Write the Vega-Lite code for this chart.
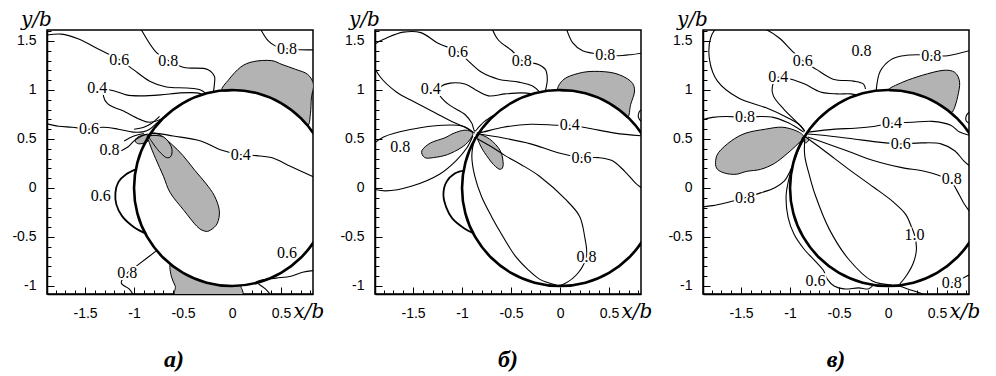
{
"$schema":"https://vega.github.io/schema/vega-lite/v6.json",
"background":"white",
"padding":{"left":11,"top":8,"right":0,"bottom":0},
"autosize":{"type":"pad"},
"bounds":"flush",
"spacing":62,
"config":{
 "view":{"stroke":"black","strokeWidth":1.5},
 "axis":{"grid":false,"domain":true,"domainColor":"black","domainWidth":1.5,"tickColor":"black","tickWidth":1,"labelColor":"black","labelFont":"Liberation Sans","labelFontSize":14,"titleFont":"DejaVu Serif","titleFontStyle":"italic","titleFontWeight":"normal","titleFontSize":20,"titleColor":"black","zindex":1,"labelFlush":false,"labelOverlap":false},
 "title":{"orient":"bottom","anchor":"middle","font":"Liberation Serif","fontSize":24,"fontStyle":"italic","fontWeight":"bold","color":"black","offset":27,"baseline":"alphabetic"}
},
"datasets":{
"circle":[{"i":0,"x":1,"y":0},{"i":1,"x":0.966,"y":0.259},{"i":2,"x":0.866,"y":0.5},{"i":3,"x":0.707,"y":0.707},{"i":4,"x":0.5,"y":0.866},{"i":5,"x":0.259,"y":0.966},{"i":6,"x":0,"y":1},{"i":7,"x":-0.259,"y":0.966},{"i":8,"x":-0.5,"y":0.866},{"i":9,"x":-0.707,"y":0.707},{"i":10,"x":-0.866,"y":0.5},{"i":11,"x":-0.966,"y":0.259},{"i":12,"x":-1,"y":0},{"i":13,"x":-0.966,"y":-0.259},{"i":14,"x":-0.866,"y":-0.5},{"i":15,"x":-0.707,"y":-0.707},{"i":16,"x":-0.5,"y":-0.866},{"i":17,"x":-0.259,"y":-0.966},{"i":18,"x":0,"y":-1},{"i":19,"x":0.259,"y":-0.966},{"i":20,"x":0.5,"y":-0.866},{"i":21,"x":0.707,"y":-0.707},{"i":22,"x":0.866,"y":-0.5},{"i":23,"x":0.966,"y":-0.259}],
"gray":[
{"p":"a","c":"g1","i":0,"x":-0.10,"y":0.995},{"p":"a","c":"g1","i":1,"x":0.1,"y":0.995},{"p":"a","c":"g1","i":2,"x":0.3,"y":0.954},{"p":"a","c":"g1","i":3,"x":0.5,"y":0.866},{"p":"a","c":"g1","i":4,"x":0.65,"y":0.76},{"p":"a","c":"g1","i":5,"x":0.77,"y":0.64},{"p":"a","c":"g1","i":6,"x":0.80,"y":0.76},{"p":"a","c":"g1","i":7,"x":0.81,"y":0.92},{"p":"a","c":"g1","i":8,"x":0.83,"y":1.06},{"p":"a","c":"g1","i":9,"x":0.77,"y":1.16},{"p":"a","c":"g1","i":10,"x":0.65,"y":1.21},{"p":"a","c":"g1","i":11,"x":0.51,"y":1.26},{"p":"a","c":"g1","i":12,"x":0.40,"y":1.30},{"p":"a","c":"g1","i":13,"x":0.22,"y":1.29},{"p":"a","c":"g1","i":14,"x":0.09,"y":1.235},{"p":"a","c":"g1","i":15,"x":-0.03,"y":1.11},
{"p":"a","c":"g2","i":0,"x":-0.99,"y":0.48},{"p":"a","c":"g2","i":1,"x":-0.96,"y":0.52},{"p":"a","c":"g2","i":2,"x":-0.88,"y":0.545},{"p":"a","c":"g2","i":3,"x":-0.84,"y":0.52},{"p":"a","c":"g2","i":4,"x":-0.87,"y":0.47},{"p":"a","c":"g2","i":5,"x":-0.95,"y":0.45},
{"p":"a","c":"g3","i":0,"x":-0.86,"y":0.54},{"p":"a","c":"g3","i":1,"x":-0.75,"y":0.55},{"p":"a","c":"g3","i":2,"x":-0.62,"y":0.45},{"p":"a","c":"g3","i":3,"x":-0.5,"y":0.33},{"p":"a","c":"g3","i":4,"x":-0.38,"y":0.18},{"p":"a","c":"g3","i":5,"x":-0.27,"y":0.05},{"p":"a","c":"g3","i":6,"x":-0.18,"y":-0.08},{"p":"a","c":"g3","i":7,"x":-0.13,"y":-0.23},{"p":"a","c":"g3","i":8,"x":-0.15,"y":-0.36},{"p":"a","c":"g3","i":9,"x":-0.22,"y":-0.43},{"p":"a","c":"g3","i":10,"x":-0.28,"y":-0.44},{"p":"a","c":"g3","i":11,"x":-0.36,"y":-0.39},{"p":"a","c":"g3","i":12,"x":-0.49,"y":-0.23},{"p":"a","c":"g3","i":13,"x":-0.63,"y":-0.05},{"p":"a","c":"g3","i":14,"x":-0.70,"y":0.12},{"p":"a","c":"g3","i":15,"x":-0.78,"y":0.3},{"p":"a","c":"g3","i":16,"x":-0.84,"y":0.45},
{"p":"a","c":"g4","i":0,"x":-0.84,"y":0.53},{"p":"a","c":"g4","i":1,"x":-0.7,"y":0.52},{"p":"a","c":"g4","i":2,"x":-0.62,"y":0.42},{"p":"a","c":"g4","i":3,"x":-0.62,"y":0.33},{"p":"a","c":"g4","i":4,"x":-0.67,"y":0.31},{"p":"a","c":"g4","i":5,"x":-0.74,"y":0.37},{"p":"a","c":"g4","i":6,"x":-0.81,"y":0.46},
{"p":"a","c":"g5","i":0,"x":-0.63,"y":-0.78},{"p":"a","c":"g5","i":1,"x":-0.62,"y":-0.9},{"p":"a","c":"g5","i":2,"x":-0.58,"y":-1.0},{"p":"a","c":"g5","i":3,"x":-0.53,"y":-1.12},{"p":"a","c":"g5","i":4,"x":0.06,"y":-1.12},{"p":"a","c":"g5","i":5,"x":0.09,"y":-1.0},{"p":"a","c":"g5","i":6,"x":0.1,"y":-0.995},{"p":"a","c":"g5","i":7,"x":0.0,"y":-1.0},{"p":"a","c":"g5","i":8,"x":-0.2,"y":-0.98},{"p":"a","c":"g5","i":9,"x":-0.4,"y":-0.917},{"p":"a","c":"g5","i":10,"x":-0.55,"y":-0.835},
{"p":"b","c":"g1","i":0,"x":-0.02,"y":1.0},{"p":"b","c":"g1","i":1,"x":0.04,"y":1.11},{"p":"b","c":"g1","i":2,"x":0.19,"y":1.17},{"p":"b","c":"g1","i":3,"x":0.35,"y":1.19},{"p":"b","c":"g1","i":4,"x":0.56,"y":1.17},{"p":"b","c":"g1","i":5,"x":0.72,"y":1.09},{"p":"b","c":"g1","i":6,"x":0.76,"y":0.99},{"p":"b","c":"g1","i":7,"x":0.72,"y":0.85},{"p":"b","c":"g1","i":8,"x":0.69,"y":0.72},{"p":"b","c":"g1","i":9,"x":0.6,"y":0.8},{"p":"b","c":"g1","i":10,"x":0.45,"y":0.893},{"p":"b","c":"g1","i":11,"x":0.3,"y":0.954},{"p":"b","c":"g1","i":12,"x":0.15,"y":0.989},
{"p":"b","c":"g2","i":0,"x":-1.41,"y":0.38},{"p":"b","c":"g2","i":1,"x":-1.32,"y":0.46},{"p":"b","c":"g2","i":2,"x":-1.18,"y":0.51},{"p":"b","c":"g2","i":3,"x":-1.08,"y":0.56},{"p":"b","c":"g2","i":4,"x":-0.97,"y":0.59},{"p":"b","c":"g2","i":5,"x":-0.89,"y":0.56},{"p":"b","c":"g2","i":6,"x":-0.93,"y":0.48},{"p":"b","c":"g2","i":7,"x":-1.01,"y":0.41},{"p":"b","c":"g2","i":8,"x":-1.15,"y":0.34},{"p":"b","c":"g2","i":9,"x":-1.29,"y":0.31},{"p":"b","c":"g2","i":10,"x":-1.38,"y":0.31},
{"p":"b","c":"g3","i":0,"x":-0.85,"y":0.55},{"p":"b","c":"g3","i":1,"x":-0.72,"y":0.50},{"p":"b","c":"g3","i":2,"x":-0.61,"y":0.38},{"p":"b","c":"g3","i":3,"x":-0.58,"y":0.24},{"p":"b","c":"g3","i":4,"x":-0.61,"y":0.19},{"p":"b","c":"g3","i":5,"x":-0.68,"y":0.24},{"p":"b","c":"g3","i":6,"x":-0.77,"y":0.36},{"p":"b","c":"g3","i":7,"x":-0.82,"y":0.45},
{"p":"c","c":"g1","i":0,"x":-1.76,"y":0.26},{"p":"c","c":"g1","i":1,"x":-1.73,"y":0.36},{"p":"c","c":"g1","i":2,"x":-1.60,"y":0.48},{"p":"c","c":"g1","i":3,"x":-1.45,"y":0.56},{"p":"c","c":"g1","i":4,"x":-1.25,"y":0.60},{"p":"c","c":"g1","i":5,"x":-1.08,"y":0.62},{"p":"c","c":"g1","i":6,"x":-0.93,"y":0.58},{"p":"c","c":"g1","i":7,"x":-0.86,"y":0.52},{"p":"c","c":"g1","i":8,"x":-0.92,"y":0.45},{"p":"c","c":"g1","i":9,"x":-1.03,"y":0.35},{"p":"c","c":"g1","i":10,"x":-1.16,"y":0.25},{"p":"c","c":"g1","i":11,"x":-1.30,"y":0.19},{"p":"c","c":"g1","i":12,"x":-1.44,"y":0.17},{"p":"c","c":"g1","i":13,"x":-1.55,"y":0.14},{"p":"c","c":"g1","i":14,"x":-1.66,"y":0.15},{"p":"c","c":"g1","i":15,"x":-1.74,"y":0.19},
{"p":"c","c":"g2","i":0,"x":-0.81,"y":0.49},{"p":"c","c":"g2","i":1,"x":-0.84,"y":0.52},{"p":"c","c":"g2","i":2,"x":-0.87,"y":0.49},{"p":"c","c":"g2","i":3,"x":-0.84,"y":0.46},
{"p":"c","c":"g3","i":0,"x":0.0,"y":1.0},{"p":"c","c":"g3","i":1,"x":0.15,"y":1.08},{"p":"c","c":"g3","i":2,"x":0.35,"y":1.15},{"p":"c","c":"g3","i":3,"x":0.56,"y":1.2},{"p":"c","c":"g3","i":4,"x":0.68,"y":1.18},{"p":"c","c":"g3","i":5,"x":0.73,"y":1.08},{"p":"c","c":"g3","i":6,"x":0.71,"y":0.93},{"p":"c","c":"g3","i":7,"x":0.67,"y":0.80},{"p":"c","c":"g3","i":8,"x":0.63,"y":0.776},{"p":"c","c":"g3","i":9,"x":0.5,"y":0.866},{"p":"c","c":"g3","i":10,"x":0.3,"y":0.954},{"p":"c","c":"g3","i":11,"x":0.15,"y":0.989}
],
"thick":[
{"p":"a","c":"t1","i":0,"x":-0.98,"y":0.19},{"p":"a","c":"t1","i":1,"x":-1.08,"y":0.14},{"p":"a","c":"t1","i":2,"x":-1.16,"y":0.06},{"p":"a","c":"t1","i":3,"x":-1.19,"y":-0.05},{"p":"a","c":"t1","i":4,"x":-1.18,"y":-0.17},{"p":"a","c":"t1","i":5,"x":-1.12,"y":-0.29},{"p":"a","c":"t1","i":6,"x":-1.0,"y":-0.40},{"p":"a","c":"t1","i":7,"x":-0.87,"y":-0.47},
{"p":"b","c":"t1","i":0,"x":-0.97,"y":0.18},{"p":"b","c":"t1","i":1,"x":-1.07,"y":0.15},{"p":"b","c":"t1","i":2,"x":-1.16,"y":0.06},{"p":"b","c":"t1","i":3,"x":-1.19,"y":-0.07},{"p":"b","c":"t1","i":4,"x":-1.16,"y":-0.2},{"p":"b","c":"t1","i":5,"x":-1.10,"y":-0.31},{"p":"b","c":"t1","i":6,"x":-0.98,"y":-0.41},{"p":"b","c":"t1","i":7,"x":-0.89,"y":-0.46}
],
"lines":[
{"p":"a","c":"1","i":0,"x":-1.95,"y":1.55},{"p":"a","c":"1","i":1,"x":-1.74,"y":1.57},{"p":"a","c":"1","i":2,"x":-1.565,"y":1.52},{"p":"a","c":"1","i":3,"x":-1.36,"y":1.415},{"p":"a","c":"1","i":4,"x":-1.15,"y":1.31},{"p":"a","c":"1","i":5,"x":-1.01,"y":1.21},{"p":"a","c":"1","i":6,"x":-0.84,"y":1.09},{"p":"a","c":"1","i":7,"x":-0.67,"y":1.03},{"p":"a","c":"1","i":8,"x":-0.46,"y":1.02},{"p":"a","c":"1","i":9,"x":-0.32,"y":1.0},{"p":"a","c":"1","i":10,"x":-0.27,"y":0.965},
{"p":"a","c":"2","i":0,"x":-0.94,"y":1.64},{"p":"a","c":"2","i":1,"x":-0.77,"y":1.38},{"p":"a","c":"2","i":2,"x":-0.65,"y":1.30},{"p":"a","c":"2","i":3,"x":-0.49,"y":1.23},{"p":"a","c":"2","i":4,"x":-0.25,"y":1.21},{"p":"a","c":"2","i":5,"x":-0.18,"y":1.14},{"p":"a","c":"2","i":6,"x":-0.18,"y":1.06},{"p":"a","c":"2","i":7,"x":-0.19,"y":0.98},
{"p":"a","c":"3","i":0,"x":0.28,"y":1.64},{"p":"a","c":"3","i":1,"x":0.37,"y":1.5},{"p":"a","c":"3","i":2,"x":0.44,"y":1.45},{"p":"a","c":"3","i":3,"x":0.56,"y":1.42},{"p":"a","c":"3","i":4,"x":0.70,"y":1.41},{"p":"a","c":"3","i":5,"x":0.86,"y":1.41},
{"p":"a","c":"4","i":0,"x":-0.30,"y":0.954},{"p":"a","c":"4","i":1,"x":-0.36,"y":0.97},{"p":"a","c":"4","i":2,"x":-0.53,"y":0.97},{"p":"a","c":"4","i":3,"x":-0.73,"y":0.95},{"p":"a","c":"4","i":4,"x":-0.94,"y":0.94},{"p":"a","c":"4","i":5,"x":-1.08,"y":0.95},{"p":"a","c":"4","i":6,"x":-1.2,"y":0.99},{"p":"a","c":"4","i":7,"x":-1.3,"y":1.0},{"p":"a","c":"4","i":8,"x":-1.31,"y":0.93},{"p":"a","c":"4","i":9,"x":-1.27,"y":0.86},{"p":"a","c":"4","i":10,"x":-1.2,"y":0.82},{"p":"a","c":"4","i":11,"x":-1.12,"y":0.79},{"p":"a","c":"4","i":12,"x":-0.94,"y":0.70},{"p":"a","c":"4","i":13,"x":-0.84,"y":0.67},{"p":"a","c":"4","i":14,"x":-0.73,"y":0.70},{"p":"a","c":"4","i":15,"x":-0.67,"y":0.745},
{"p":"a","c":"5","i":0,"x":-1.95,"y":0.67},{"p":"a","c":"5","i":1,"x":-1.77,"y":0.63},{"p":"a","c":"5","i":2,"x":-1.63,"y":0.62},{"p":"a","c":"5","i":3,"x":-1.46,"y":0.60},{"p":"a","c":"5","i":4,"x":-1.32,"y":0.62},{"p":"a","c":"5","i":5,"x":-1.16,"y":0.60},{"p":"a","c":"5","i":6,"x":-1.01,"y":0.57},{"p":"a","c":"5","i":7,"x":-0.90,"y":0.575},{"p":"a","c":"5","i":8,"x":-0.84,"y":0.60},{"p":"a","c":"5","i":9,"x":-0.76,"y":0.67},{"p":"a","c":"5","i":10,"x":-0.70,"y":0.72},
{"p":"a","c":"6","i":0,"x":-1.13,"y":0.38},{"p":"a","c":"6","i":1,"x":-1.06,"y":0.42},{"p":"a","c":"6","i":2,"x":-1.0,"y":0.48},{"p":"a","c":"6","i":3,"x":-0.92,"y":0.53},{"p":"a","c":"6","i":4,"x":-0.86,"y":0.55},
{"p":"a","c":"7","i":0,"x":-1.1,"y":0.48},{"p":"a","c":"7","i":1,"x":-1.0,"y":0.53},{"p":"a","c":"7","i":2,"x":-0.9,"y":0.555},
{"p":"a","c":"8","i":0,"x":-1.0,"y":0.6},{"p":"a","c":"8","i":1,"x":-0.9,"y":0.62},{"p":"a","c":"8","i":2,"x":-0.82,"y":0.66},{"p":"a","c":"8","i":3,"x":-0.74,"y":0.73},
{"p":"a","c":"9","i":0,"x":-0.85,"y":0.55},{"p":"a","c":"9","i":1,"x":-0.80,"y":0.56},{"p":"a","c":"9","i":2,"x":-0.60,"y":0.53},{"p":"a","c":"9","i":3,"x":-0.32,"y":0.48},{"p":"a","c":"9","i":4,"x":-0.12,"y":0.39},{"p":"a","c":"9","i":5,"x":0.09,"y":0.34},{"p":"a","c":"9","i":6,"x":0.25,"y":0.33},{"p":"a","c":"9","i":7,"x":0.40,"y":0.31},{"p":"a","c":"9","i":8,"x":0.60,"y":0.22},{"p":"a","c":"9","i":9,"x":0.86,"y":0.10},
{"p":"a","c":"11","i":0,"x":-0.77,"y":-0.64},{"p":"a","c":"11","i":1,"x":-0.94,"y":-0.77},{"p":"a","c":"11","i":2,"x":-1.07,"y":-0.87},{"p":"a","c":"11","i":3,"x":-1.13,"y":-0.97},{"p":"a","c":"11","i":4,"x":-1.05,"y":-1.03},{"p":"a","c":"11","i":5,"x":-0.99,"y":-1.12},
{"p":"a","c":"13","i":0,"x":0.86,"y":-0.84},{"p":"a","c":"13","i":1,"x":0.72,"y":-0.86},{"p":"a","c":"13","i":2,"x":0.6,"y":-0.9},{"p":"a","c":"13","i":3,"x":0.45,"y":-0.92},{"p":"a","c":"13","i":4,"x":0.3,"y":-0.94},{"p":"a","c":"13","i":5,"x":0.22,"y":-0.97},
{"p":"a","c":"14","i":0,"x":0.27,"y":-0.98},{"p":"a","c":"14","i":1,"x":0.34,"y":-1.03},{"p":"a","c":"14","i":2,"x":0.41,"y":-1.11},
{"p":"b","c":"1","i":0,"x":-0.87,"y":0.56},{"p":"b","c":"1","i":1,"x":-0.97,"y":0.62},{"p":"b","c":"1","i":2,"x":-1.11,"y":0.68},{"p":"b","c":"1","i":3,"x":-1.28,"y":0.77},{"p":"b","c":"1","i":4,"x":-1.49,"y":0.88},{"p":"b","c":"1","i":5,"x":-1.67,"y":0.98},{"p":"b","c":"1","i":6,"x":-1.84,"y":1.14},{"p":"b","c":"1","i":7,"x":-1.92,"y":1.3},{"p":"b","c":"1","i":8,"x":-1.93,"y":1.4},{"p":"b","c":"1","i":9,"x":-1.87,"y":1.48},{"p":"b","c":"1","i":10,"x":-1.77,"y":1.53},{"p":"b","c":"1","i":11,"x":-1.60,"y":1.59},{"p":"b","c":"1","i":12,"x":-1.42,"y":1.585},{"p":"b","c":"1","i":13,"x":-1.25,"y":1.48},{"p":"b","c":"1","i":14,"x":-1.04,"y":1.39},{"p":"b","c":"1","i":15,"x":-0.94,"y":1.30},{"p":"b","c":"1","i":16,"x":-0.80,"y":1.18},{"p":"b","c":"1","i":17,"x":-0.63,"y":1.11},{"p":"b","c":"1","i":18,"x":-0.42,"y":1.08},{"p":"b","c":"1","i":19,"x":-0.28,"y":1.04},{"p":"b","c":"1","i":20,"x":-0.21,"y":0.98},
{"p":"b","c":"2","i":0,"x":-0.70,"y":1.64},{"p":"b","c":"2","i":1,"x":-0.63,"y":1.51},{"p":"b","c":"2","i":2,"x":-0.49,"y":1.40},{"p":"b","c":"2","i":3,"x":-0.39,"y":1.30},{"p":"b","c":"2","i":4,"x":-0.22,"y":1.26},{"p":"b","c":"2","i":5,"x":-0.15,"y":1.21},{"p":"b","c":"2","i":6,"x":-0.13,"y":1.11},{"p":"b","c":"2","i":7,"x":-0.15,"y":0.99},
{"p":"b","c":"3","i":0,"x":0.06,"y":1.64},{"p":"b","c":"3","i":1,"x":0.13,"y":1.48},{"p":"b","c":"3","i":2,"x":0.23,"y":1.40},{"p":"b","c":"3","i":3,"x":0.46,"y":1.36},{"p":"b","c":"3","i":4,"x":0.59,"y":1.35},{"p":"b","c":"3","i":5,"x":0.72,"y":1.36},{"p":"b","c":"3","i":6,"x":0.86,"y":1.38},
{"p":"b","c":"5","i":0,"x":-0.28,"y":0.96},{"p":"b","c":"5","i":1,"x":-0.39,"y":0.97},{"p":"b","c":"5","i":2,"x":-0.56,"y":0.96},{"p":"b","c":"5","i":3,"x":-0.73,"y":0.94},{"p":"b","c":"5","i":4,"x":-0.84,"y":0.99},{"p":"b","c":"5","i":5,"x":-0.97,"y":1.06},{"p":"b","c":"5","i":6,"x":-1.12,"y":1.07},{"p":"b","c":"5","i":7,"x":-1.22,"y":1.03},{"p":"b","c":"5","i":8,"x":-1.24,"y":0.97},{"p":"b","c":"5","i":9,"x":-1.20,"y":0.91},{"p":"b","c":"5","i":10,"x":-1.12,"y":0.84},{"p":"b","c":"5","i":11,"x":-0.97,"y":0.75},{"p":"b","c":"5","i":12,"x":-0.90,"y":0.66},{"p":"b","c":"5","i":13,"x":-0.87,"y":0.58},{"p":"b","c":"5","i":14,"x":-0.83,"y":0.62},{"p":"b","c":"5","i":15,"x":-0.77,"y":0.68},{"p":"b","c":"5","i":16,"x":-0.68,"y":0.74},
{"p":"b","c":"6","i":0,"x":-1.95,"y":0.41},{"p":"b","c":"6","i":1,"x":-1.80,"y":0.52},{"p":"b","c":"6","i":2,"x":-1.51,"y":0.60},{"p":"b","c":"6","i":3,"x":-1.20,"y":0.64},{"p":"b","c":"6","i":4,"x":-0.99,"y":0.63},{"p":"b","c":"6","i":5,"x":-0.89,"y":0.57},
{"p":"b","c":"7","i":0,"x":-1.95,"y":0.0},{"p":"b","c":"7","i":1,"x":-1.78,"y":-0.03},{"p":"b","c":"7","i":2,"x":-1.51,"y":0.02},{"p":"b","c":"7","i":3,"x":-1.23,"y":0.14},{"p":"b","c":"7","i":4,"x":-1.06,"y":0.28},{"p":"b","c":"7","i":5,"x":-0.95,"y":0.41},{"p":"b","c":"7","i":6,"x":-0.89,"y":0.53},
{"p":"b","c":"10","i":0,"x":-0.85,"y":0.56},{"p":"b","c":"10","i":1,"x":-0.79,"y":0.57},{"p":"b","c":"10","i":2,"x":-0.58,"y":0.62},{"p":"b","c":"10","i":3,"x":-0.30,"y":0.65},{"p":"b","c":"10","i":4,"x":-0.02,"y":0.64},{"p":"b","c":"10","i":5,"x":0.1,"y":0.64},{"p":"b","c":"10","i":6,"x":0.29,"y":0.61},{"p":"b","c":"10","i":7,"x":0.56,"y":0.56},{"p":"b","c":"10","i":8,"x":0.86,"y":0.53},
{"p":"b","c":"11","i":0,"x":-0.82,"y":0.55},{"p":"b","c":"11","i":1,"x":-0.58,"y":0.51},{"p":"b","c":"11","i":2,"x":-0.30,"y":0.45},{"p":"b","c":"11","i":3,"x":-0.02,"y":0.36},{"p":"b","c":"11","i":4,"x":0.22,"y":0.31},{"p":"b","c":"11","i":5,"x":0.39,"y":0.31},{"p":"b","c":"11","i":6,"x":0.53,"y":0.28},{"p":"b","c":"11","i":7,"x":0.66,"y":0.17},{"p":"b","c":"11","i":8,"x":0.77,"y":0.05},{"p":"b","c":"11","i":9,"x":0.86,"y":-0.02},
{"p":"b","c":"12","i":0,"x":-0.84,"y":0.5},{"p":"b","c":"12","i":1,"x":-0.7,"y":0.42},{"p":"b","c":"12","i":2,"x":-0.56,"y":0.33},{"p":"b","c":"12","i":3,"x":-0.40,"y":0.24},{"p":"b","c":"12","i":4,"x":-0.21,"y":0.12},{"p":"b","c":"12","i":5,"x":0.06,"y":-0.12},{"p":"b","c":"12","i":6,"x":0.2,"y":-0.29},{"p":"b","c":"12","i":7,"x":0.25,"y":-0.49},{"p":"b","c":"12","i":8,"x":0.27,"y":-0.69},{"p":"b","c":"12","i":9,"x":0.19,"y":-0.86},{"p":"b","c":"12","i":10,"x":0.04,"y":-0.98},{"p":"b","c":"12","i":11,"x":-0.02,"y":-0.995},
{"p":"b","c":"13","i":0,"x":-0.87,"y":0.52},{"p":"b","c":"13","i":1,"x":-0.9,"y":0.33},{"p":"b","c":"13","i":2,"x":-0.87,"y":0.12},{"p":"b","c":"13","i":3,"x":-0.80,"y":-0.09},{"p":"b","c":"13","i":4,"x":-0.70,"y":-0.29},{"p":"b","c":"13","i":5,"x":-0.58,"y":-0.5},{"p":"b","c":"13","i":6,"x":-0.46,"y":-0.69},{"p":"b","c":"13","i":7,"x":-0.33,"y":-0.83},{"p":"b","c":"13","i":8,"x":-0.21,"y":-0.93},{"p":"b","c":"13","i":9,"x":-0.04,"y":-0.99},
{"p":"b","c":"15","i":0,"x":0.86,"y":0.82},{"p":"b","c":"15","i":1,"x":0.81,"y":0.78},{"p":"b","c":"15","i":2,"x":0.80,"y":0.72},{"p":"b","c":"15","i":3,"x":0.83,"y":0.68},{"p":"b","c":"15","i":4,"x":0.86,"y":0.67},
{"p":"c","c":"1","i":0,"x":-0.85,"y":0.58},{"p":"c","c":"1","i":1,"x":-0.91,"y":0.65},{"p":"c","c":"1","i":2,"x":-1.01,"y":0.71},{"p":"c","c":"1","i":3,"x":-1.25,"y":0.82},{"p":"c","c":"1","i":4,"x":-1.53,"y":0.92},{"p":"c","c":"1","i":5,"x":-1.74,"y":1.09},{"p":"c","c":"1","i":6,"x":-1.82,"y":1.30},{"p":"c","c":"1","i":7,"x":-1.81,"y":1.53},{"p":"c","c":"1","i":8,"x":-1.74,"y":1.64},{"p":"c","c":"1","i":9,"x":-1.5,"y":1.7},{"p":"c","c":"1","i":10,"x":-1.25,"y":1.62},{"p":"c","c":"1","i":11,"x":-1.11,"y":1.53},{"p":"c","c":"1","i":12,"x":-0.98,"y":1.40},{"p":"c","c":"1","i":13,"x":-0.87,"y":1.30},{"p":"c","c":"1","i":14,"x":-0.73,"y":1.21},{"p":"c","c":"1","i":15,"x":-0.56,"y":1.11},{"p":"c","c":"1","i":16,"x":-0.35,"y":1.09},{"p":"c","c":"1","i":17,"x":-0.25,"y":1.06},{"p":"c","c":"1","i":18,"x":-0.23,"y":1.01},
{"p":"c","c":"2","i":0,"x":-0.31,"y":0.945},{"p":"c","c":"2","i":1,"x":-0.38,"y":0.96},{"p":"c","c":"2","i":2,"x":-0.52,"y":0.96},{"p":"c","c":"2","i":3,"x":-0.69,"y":0.98},{"p":"c","c":"2","i":4,"x":-0.85,"y":1.06},{"p":"c","c":"2","i":5,"x":-0.99,"y":1.11},{"p":"c","c":"2","i":6,"x":-1.12,"y":1.13},{"p":"c","c":"2","i":7,"x":-1.18,"y":1.04},{"p":"c","c":"2","i":8,"x":-1.17,"y":0.94},{"p":"c","c":"2","i":9,"x":-1.06,"y":0.80},{"p":"c","c":"2","i":10,"x":-0.96,"y":0.70},{"p":"c","c":"2","i":11,"x":-0.89,"y":0.63},{"p":"c","c":"2","i":12,"x":-0.85,"y":0.58},
{"p":"c","c":"3","i":0,"x":-1.95,"y":0.68},{"p":"c","c":"3","i":1,"x":-1.79,"y":0.72},{"p":"c","c":"3","i":2,"x":-1.65,"y":0.73},{"p":"c","c":"3","i":3,"x":-1.46,"y":0.72},{"p":"c","c":"3","i":4,"x":-1.30,"y":0.73},{"p":"c","c":"3","i":5,"x":-1.17,"y":0.72},{"p":"c","c":"3","i":6,"x":-1.03,"y":0.67},{"p":"c","c":"3","i":7,"x":-0.92,"y":0.61},{"p":"c","c":"3","i":8,"x":-0.86,"y":0.57},
{"p":"c","c":"6","i":0,"x":-1.95,"y":-0.2},{"p":"c","c":"6","i":1,"x":-1.79,"y":-0.18},{"p":"c","c":"6","i":2,"x":-1.65,"y":-0.15},{"p":"c","c":"6","i":3,"x":-1.46,"y":-0.10},{"p":"c","c":"6","i":4,"x":-1.30,"y":-0.05},{"p":"c","c":"6","i":5,"x":-1.16,"y":0.0},{"p":"c","c":"6","i":6,"x":-1.06,"y":0.07},{"p":"c","c":"6","i":7,"x":-1.0,"y":0.17},{"p":"c","c":"6","i":8,"x":-0.95,"y":0.3},{"p":"c","c":"6","i":9,"x":-0.9,"y":0.42},{"p":"c","c":"6","i":10,"x":-0.86,"y":0.5},
{"p":"c","c":"7","i":0,"x":-0.87,"y":0.52},{"p":"c","c":"7","i":1,"x":-0.95,"y":0.3},{"p":"c","c":"7","i":2,"x":-1.01,"y":0.1},{"p":"c","c":"7","i":3,"x":-1.04,"y":-0.08},{"p":"c","c":"7","i":4,"x":-1.02,"y":-0.3},{"p":"c","c":"7","i":5,"x":-0.96,"y":-0.47},{"p":"c","c":"7","i":6,"x":-0.86,"y":-0.62},{"p":"c","c":"7","i":7,"x":-0.74,"y":-0.75},{"p":"c","c":"7","i":8,"x":-0.66,"y":-0.84},{"p":"c","c":"7","i":9,"x":-0.62,"y":-0.93},{"p":"c","c":"7","i":10,"x":-0.55,"y":-1.0},{"p":"c","c":"7","i":11,"x":-0.45,"y":-1.03},{"p":"c","c":"7","i":12,"x":-0.3,"y":-1.02},{"p":"c","c":"7","i":13,"x":-0.2,"y":-1.03},{"p":"c","c":"7","i":14,"x":-0.15,"y":-0.99},
{"p":"c","c":"8","i":0,"x":-0.85,"y":0.5},{"p":"c","c":"8","i":1,"x":-0.85,"y":0.33},{"p":"c","c":"8","i":2,"x":-0.80,"y":0.12},{"p":"c","c":"8","i":3,"x":-0.74,"y":-0.08},{"p":"c","c":"8","i":4,"x":-0.60,"y":-0.42},{"p":"c","c":"8","i":5,"x":-0.40,"y":-0.73},{"p":"c","c":"8","i":6,"x":-0.16,"y":-0.95},{"p":"c","c":"8","i":7,"x":0.04,"y":-0.99},
{"p":"c","c":"9","i":0,"x":-0.84,"y":0.52},{"p":"c","c":"9","i":1,"x":-0.65,"y":0.38},{"p":"c","c":"9","i":2,"x":-0.4,"y":0.19},{"p":"c","c":"9","i":3,"x":-0.15,"y":0.01},{"p":"c","c":"9","i":4,"x":0.05,"y":-0.14},{"p":"c","c":"9","i":5,"x":0.18,"y":-0.27},{"p":"c","c":"9","i":6,"x":0.24,"y":-0.4},{"p":"c","c":"9","i":7,"x":0.27,"y":-0.48},{"p":"c","c":"9","i":8,"x":0.29,"y":-0.62},{"p":"c","c":"9","i":9,"x":0.26,"y":-0.76},{"p":"c","c":"9","i":10,"x":0.19,"y":-0.89},{"p":"c","c":"9","i":11,"x":0.12,"y":-0.98},
{"p":"c","c":"10","i":0,"x":-0.82,"y":0.57},{"p":"c","c":"10","i":1,"x":-0.54,"y":0.60},{"p":"c","c":"10","i":2,"x":-0.34,"y":0.61},{"p":"c","c":"10","i":3,"x":-0.13,"y":0.63},{"p":"c","c":"10","i":4,"x":0.04,"y":0.66},{"p":"c","c":"10","i":5,"x":0.25,"y":0.67},{"p":"c","c":"10","i":6,"x":0.45,"y":0.68},{"p":"c","c":"10","i":7,"x":0.64,"y":0.64},{"p":"c","c":"10","i":8,"x":0.73,"y":0.57},{"p":"c","c":"10","i":9,"x":0.86,"y":0.53},
{"p":"c","c":"11","i":0,"x":-0.82,"y":0.55},{"p":"c","c":"11","i":1,"x":-0.6,"y":0.53},{"p":"c","c":"11","i":2,"x":-0.35,"y":0.5},{"p":"c","c":"11","i":3,"x":-0.12,"y":0.47},{"p":"c","c":"11","i":4,"x":0.13,"y":0.45},{"p":"c","c":"11","i":5,"x":0.34,"y":0.46},{"p":"c","c":"11","i":6,"x":0.54,"y":0.45},{"p":"c","c":"11","i":7,"x":0.68,"y":0.38},{"p":"c","c":"11","i":8,"x":0.77,"y":0.28},{"p":"c","c":"11","i":9,"x":0.86,"y":0.2},
{"p":"c","c":"12","i":0,"x":-0.82,"y":0.52},{"p":"c","c":"12","i":1,"x":-0.70,"y":0.48},{"p":"c","c":"12","i":2,"x":-0.42,"y":0.38},{"p":"c","c":"12","i":3,"x":-0.15,"y":0.28},{"p":"c","c":"12","i":4,"x":0.13,"y":0.21},{"p":"c","c":"12","i":5,"x":0.37,"y":0.17},{"p":"c","c":"12","i":6,"x":0.54,"y":0.12},{"p":"c","c":"12","i":7,"x":0.65,"y":0.06},{"p":"c","c":"12","i":8,"x":0.71,"y":-0.04},{"p":"c","c":"12","i":9,"x":0.77,"y":-0.15},{"p":"c","c":"12","i":10,"x":0.86,"y":-0.28},
{"p":"c","c":"14","i":0,"x":-0.12,"y":1.0},{"p":"c","c":"14","i":1,"x":-0.08,"y":1.19},{"p":"c","c":"14","i":2,"x":0.03,"y":1.31},{"p":"c","c":"14","i":3,"x":0.16,"y":1.35},{"p":"c","c":"14","i":4,"x":0.31,"y":1.36},{"p":"c","c":"14","i":5,"x":0.44,"y":1.35},{"p":"c","c":"14","i":6,"x":0.61,"y":1.35},{"p":"c","c":"14","i":7,"x":0.86,"y":1.41},
{"p":"c","c":"16","i":0,"x":0.1,"y":-0.995},{"p":"c","c":"16","i":1,"x":0.2,"y":-1.03},{"p":"c","c":"16","i":2,"x":0.32,"y":-1.07},{"p":"c","c":"16","i":3,"x":0.45,"y":-1.12},
{"p":"c","c":"18","i":0,"x":0.65,"y":-0.97},{"p":"c","c":"18","i":1,"x":0.73,"y":-0.94},{"p":"c","c":"18","i":2,"x":0.8,"y":-0.9},{"p":"c","c":"18","i":3,"x":0.86,"y":-0.88},
{"p":"c","c":"17","i":0,"x":0.86,"y":0.8},{"p":"c","c":"17","i":1,"x":0.8,"y":0.74},{"p":"c","c":"17","i":2,"x":0.8,"y":0.68},{"p":"c","c":"17","i":3,"x":0.86,"y":0.65}
],
"labels":[
{"p":"a","x":-1.15,"y":1.31,"t":"0.6"},{"p":"a","x":-0.65,"y":1.30,"t":"0.8"},{"p":"a","x":0.56,"y":1.42,"t":"0.8"},{"p":"a","x":-1.375,"y":1.02,"t":"0.4"},{"p":"a","x":-1.46,"y":0.60,"t":"0.6"},{"p":"a","x":-1.25,"y":0.39,"t":"0.8"},{"p":"a","x":0.09,"y":0.34,"t":"0.4"},{"p":"a","x":-1.34,"y":-0.08,"t":"0.6"},{"p":"a","x":-1.07,"y":-0.87,"t":"0.8"},{"p":"a","x":0.56,"y":-0.66,"t":"0.6"},
{"p":"b","x":-1.04,"y":1.39,"t":"0.6"},{"p":"b","x":-0.39,"y":1.30,"t":"0.8"},{"p":"b","x":0.46,"y":1.36,"t":"0.8"},{"p":"b","x":-1.32,"y":1.01,"t":"0.4"},{"p":"b","x":-1.63,"y":0.42,"t":"0.8"},{"p":"b","x":0.1,"y":0.64,"t":"0.4"},{"p":"b","x":0.22,"y":0.31,"t":"0.6"},{"p":"b","x":0.27,"y":-0.70,"t":"0.8"},
{"p":"c","x":-0.87,"y":1.30,"t":"0.6"},{"p":"c","x":-0.27,"y":1.40,"t":"0.8"},{"p":"c","x":0.44,"y":1.35,"t":"0.8"},{"p":"c","x":-1.12,"y":1.13,"t":"0.4"},{"p":"c","x":-1.46,"y":0.72,"t":"0.8"},{"p":"c","x":0.04,"y":0.66,"t":"0.4"},{"p":"c","x":0.13,"y":0.45,"t":"0.6"},{"p":"c","x":0.65,"y":0.09,"t":"0.8"},{"p":"c","x":-1.46,"y":-0.10,"t":"0.8"},{"p":"c","x":0.27,"y":-0.48,"t":"1.0"},{"p":"c","x":-0.74,"y":-0.95,"t":"0.6"},{"p":"c","x":0.65,"y":-0.97,"t":"0.8"}
]
},
"hconcat":[
{"width":266,"height":264,"title":{"text":"а)","dx":-6},
 "resolve":{"axis":{"x":"independent","y":"independent"}},
 "layer":[
  {"data":{"name":"gray"},"transform":[{"filter":"datum.p==='a'"}],"mark":{"type":"line","interpolate":"cardinal-closed","fill":"#b3b3b3","stroke":"black","strokeWidth":1,"clip":true},
   "encoding":{"x":{"field":"x","type":"quantitative","scale":{"domain":[-1.888,0.826],"nice":false,"zero":false},"axis":{"orient":"bottom","values":[-1.5,-1,-0.5,0,0.5],"tickSize":-7,"labelPadding":19,"labelExpr":"toString(datum.value)","title":"x/b","titleX":246,"titleY":23,"titleAlign":"left","titleBaseline":"alphabetic","titleAngle":0}},
    "y":{"field":"y","type":"quantitative","scale":{"domain":[-1.082,1.612],"nice":false,"zero":false},"axis":{"orient":"left","values":[-1,-0.5,0,0.5,1,1.5],"tickSize":-7,"labelPadding":18,"labelExpr":"toString(datum.value)","title":"y/b","titleX":-11,"titleY":-5,"titleAlign":"center","titleBaseline":"alphabetic","titleAngle":0}},
    "detail":{"field":"c"},"order":{"field":"i"}}},
  {"data":{"name":"lines"},"transform":[{"filter":"datum.p==='a'"}],"mark":{"type":"line","interpolate":"catmull-rom","stroke":"black","strokeWidth":1.1,"clip":true},
   "encoding":{"x":{"field":"x","type":"quantitative","axis":null},"y":{"field":"y","type":"quantitative","axis":null},"detail":{"field":"c"},"order":{"field":"i"}}},
  {"data":{"name":"thick"},"transform":[{"filter":"datum.p==='a'"}],"mark":{"type":"line","interpolate":"catmull-rom","stroke":"black","strokeWidth":1.8,"clip":true},
   "encoding":{"x":{"field":"x","type":"quantitative","axis":null},"y":{"field":"y","type":"quantitative","axis":null},"detail":{"field":"c"},"order":{"field":"i"}}},
  {"data":{"name":"circle"},"mark":{"type":"line","interpolate":"cardinal-closed","stroke":"black","strokeWidth":2.6,"clip":true},
   "encoding":{"x":{"field":"x","type":"quantitative","axis":{"orient":"bottom","values":[-1.8,-1.7,-1.6,-1.5,-1.4,-1.3,-1.2,-1.1,-1,-0.9,-0.8,-0.7,-0.6,-0.5,-0.4,-0.3,-0.2,-0.1,0,0.1,0.2,0.3,0.4,0.5,0.6,0.7,0.8],"tickSize":-4,"labels":false,"domain":false,"title":null}},
    "y":{"field":"y","type":"quantitative","axis":{"orient":"left","values":[-1,-0.9,-0.8,-0.7,-0.6,-0.5,-0.4,-0.3,-0.2,-0.1,0,0.1,0.2,0.3,0.4,0.5,0.6,0.7,0.8,0.9,1,1.1,1.2,1.3,1.4,1.5,1.6],"tickSize":-4,"labels":false,"domain":false,"title":null}},
    "order":{"field":"i"}}},
  {"data":{"name":"labels"},"transform":[{"filter":"datum.p==='a'"}],"mark":{"type":"text","font":"Liberation Serif","fontSize":16,"fill":"white","stroke":"white","strokeWidth":4},
   "encoding":{"x":{"field":"x","type":"quantitative","axis":null},"y":{"field":"y","type":"quantitative","axis":null},"text":{"field":"t"}}},
  {"data":{"name":"labels"},"transform":[{"filter":"datum.p==='a'"}],"mark":{"type":"text","font":"Liberation Serif","fontSize":16,"fill":"black"},
   "encoding":{"x":{"field":"x","type":"quantitative","axis":null},"y":{"field":"y","type":"quantitative","axis":null},"text":{"field":"t"}}}
 ]},
{"width":266,"height":264,"title":{"text":"б)"},
 "resolve":{"axis":{"x":"independent","y":"independent"}},
 "layer":[
  {"data":{"name":"gray"},"transform":[{"filter":"datum.p==='b'"}],"mark":{"type":"line","interpolate":"cardinal-closed","fill":"#b3b3b3","stroke":"black","strokeWidth":1,"clip":true},
   "encoding":{"x":{"field":"x","type":"quantitative","scale":{"domain":[-1.888,0.826],"nice":false,"zero":false},"axis":{"orient":"bottom","values":[-1.5,-1,-0.5,0,0.5],"tickSize":-7,"labelPadding":19,"labelExpr":"toString(datum.value)","title":"x/b","titleX":246,"titleY":23,"titleAlign":"left","titleBaseline":"alphabetic","titleAngle":0}},
    "y":{"field":"y","type":"quantitative","scale":{"domain":[-1.082,1.612],"nice":false,"zero":false},"axis":{"orient":"left","values":[-1,-0.5,0,0.5,1,1.5],"tickSize":-7,"labelPadding":18,"labelExpr":"toString(datum.value)","title":"y/b","titleX":-11,"titleY":-5,"titleAlign":"center","titleBaseline":"alphabetic","titleAngle":0}},
    "detail":{"field":"c"},"order":{"field":"i"}}},
  {"data":{"name":"lines"},"transform":[{"filter":"datum.p==='b'"}],"mark":{"type":"line","interpolate":"catmull-rom","stroke":"black","strokeWidth":1.1,"clip":true},
   "encoding":{"x":{"field":"x","type":"quantitative","axis":null},"y":{"field":"y","type":"quantitative","axis":null},"detail":{"field":"c"},"order":{"field":"i"}}},
  {"data":{"name":"thick"},"transform":[{"filter":"datum.p==='b'"}],"mark":{"type":"line","interpolate":"catmull-rom","stroke":"black","strokeWidth":1.8,"clip":true},
   "encoding":{"x":{"field":"x","type":"quantitative","axis":null},"y":{"field":"y","type":"quantitative","axis":null},"detail":{"field":"c"},"order":{"field":"i"}}},
  {"data":{"name":"circle"},"mark":{"type":"line","interpolate":"cardinal-closed","stroke":"black","strokeWidth":2.6,"clip":true},
   "encoding":{"x":{"field":"x","type":"quantitative","axis":{"orient":"bottom","values":[-1.8,-1.7,-1.6,-1.5,-1.4,-1.3,-1.2,-1.1,-1,-0.9,-0.8,-0.7,-0.6,-0.5,-0.4,-0.3,-0.2,-0.1,0,0.1,0.2,0.3,0.4,0.5,0.6,0.7,0.8],"tickSize":-4,"labels":false,"domain":false,"title":null}},
    "y":{"field":"y","type":"quantitative","axis":{"orient":"left","values":[-1,-0.9,-0.8,-0.7,-0.6,-0.5,-0.4,-0.3,-0.2,-0.1,0,0.1,0.2,0.3,0.4,0.5,0.6,0.7,0.8,0.9,1,1.1,1.2,1.3,1.4,1.5,1.6],"tickSize":-4,"labels":false,"domain":false,"title":null}},
    "order":{"field":"i"}}},
  {"data":{"name":"labels"},"transform":[{"filter":"datum.p==='b'"}],"mark":{"type":"text","font":"Liberation Serif","fontSize":16,"fill":"white","stroke":"white","strokeWidth":4},
   "encoding":{"x":{"field":"x","type":"quantitative","axis":null},"y":{"field":"y","type":"quantitative","axis":null},"text":{"field":"t"}}},
  {"data":{"name":"labels"},"transform":[{"filter":"datum.p==='b'"}],"mark":{"type":"text","font":"Liberation Serif","fontSize":16,"fill":"black"},
   "encoding":{"x":{"field":"x","type":"quantitative","axis":null},"y":{"field":"y","type":"quantitative","axis":null},"text":{"field":"t"}}}
 ]},
{"width":266,"height":264,"title":{"text":"в)"},
 "resolve":{"axis":{"x":"independent","y":"independent"}},
 "layer":[
  {"data":{"name":"gray"},"transform":[{"filter":"datum.p==='c'"}],"mark":{"type":"line","interpolate":"cardinal-closed","fill":"#b3b3b3","stroke":"black","strokeWidth":1,"clip":true},
   "encoding":{"x":{"field":"x","type":"quantitative","scale":{"domain":[-1.888,0.826],"nice":false,"zero":false},"axis":{"orient":"bottom","values":[-1.5,-1,-0.5,0,0.5],"tickSize":-7,"labelPadding":19,"labelExpr":"toString(datum.value)","title":"x/b","titleX":246,"titleY":23,"titleAlign":"left","titleBaseline":"alphabetic","titleAngle":0}},
    "y":{"field":"y","type":"quantitative","scale":{"domain":[-1.082,1.612],"nice":false,"zero":false},"axis":{"orient":"left","values":[-1,-0.5,0,0.5,1,1.5],"tickSize":-7,"labelPadding":18,"labelExpr":"toString(datum.value)","title":"y/b","titleX":-11,"titleY":-5,"titleAlign":"center","titleBaseline":"alphabetic","titleAngle":0}},
    "detail":{"field":"c"},"order":{"field":"i"}}},
  {"data":{"name":"lines"},"transform":[{"filter":"datum.p==='c'"}],"mark":{"type":"line","interpolate":"catmull-rom","stroke":"black","strokeWidth":1.1,"clip":true},
   "encoding":{"x":{"field":"x","type":"quantitative","axis":null},"y":{"field":"y","type":"quantitative","axis":null},"detail":{"field":"c"},"order":{"field":"i"}}},
  {"data":{"name":"circle"},"mark":{"type":"line","interpolate":"cardinal-closed","stroke":"black","strokeWidth":2.6,"clip":true},
   "encoding":{"x":{"field":"x","type":"quantitative","axis":{"orient":"bottom","values":[-1.8,-1.7,-1.6,-1.5,-1.4,-1.3,-1.2,-1.1,-1,-0.9,-0.8,-0.7,-0.6,-0.5,-0.4,-0.3,-0.2,-0.1,0,0.1,0.2,0.3,0.4,0.5,0.6,0.7,0.8],"tickSize":-4,"labels":false,"domain":false,"title":null}},
    "y":{"field":"y","type":"quantitative","axis":{"orient":"left","values":[-1,-0.9,-0.8,-0.7,-0.6,-0.5,-0.4,-0.3,-0.2,-0.1,0,0.1,0.2,0.3,0.4,0.5,0.6,0.7,0.8,0.9,1,1.1,1.2,1.3,1.4,1.5,1.6],"tickSize":-4,"labels":false,"domain":false,"title":null}},
    "order":{"field":"i"}}},
  {"data":{"name":"labels"},"transform":[{"filter":"datum.p==='c'"}],"mark":{"type":"text","font":"Liberation Serif","fontSize":16,"fill":"white","stroke":"white","strokeWidth":4},
   "encoding":{"x":{"field":"x","type":"quantitative","axis":null},"y":{"field":"y","type":"quantitative","axis":null},"text":{"field":"t"}}},
  {"data":{"name":"labels"},"transform":[{"filter":"datum.p==='c'"}],"mark":{"type":"text","font":"Liberation Serif","fontSize":16,"fill":"black"},
   "encoding":{"x":{"field":"x","type":"quantitative","axis":null},"y":{"field":"y","type":"quantitative","axis":null},"text":{"field":"t"}}}
 ]}
]
}
